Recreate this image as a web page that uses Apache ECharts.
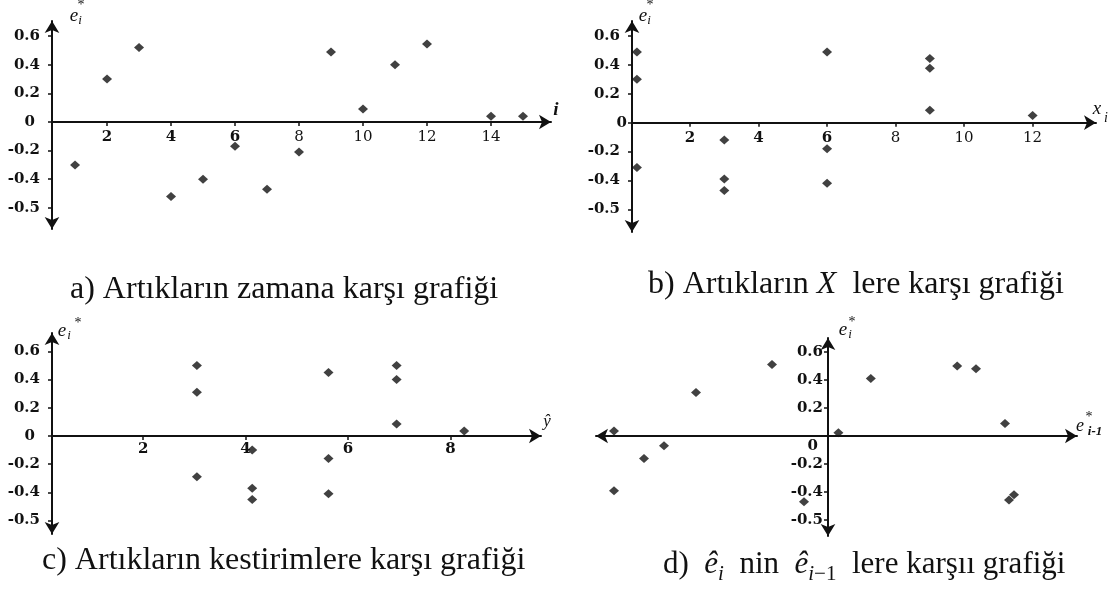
<!DOCTYPE html>
<html><head><meta charset="utf-8">
<script src="https://cdn.jsdelivr.net/npm/echarts@6/dist/echarts.min.js"></script>
<style>html,body{margin:0;padding:0;background:#fff}#c{width:1111px;height:596px}</style>
</head><body><div id="c"></div>
<script>
// ---------- data ----------
// a) residuals against time
const timeIndex = [1, 2, 3, 4, 5, 6, 7, 8, 9, 10, 11, 12, 14, 15];
const residualsByTime = [-0.30, 0.30, 0.52, -0.52, -0.40, -0.17, -0.47, -0.21, 0.49, 0.09, 0.40, 0.545, 0.04, 0.04];
// b) residuals against X
const xValues = [0.45, 0.45, 0.45, 3, 3, 3, 6, 6, 6, 9, 9, 9, 12];
const residualsByX = [0.49, 0.30, -0.31, -0.12, -0.39, -0.47, 0.49, -0.18, -0.42, 0.445, 0.377, 0.086, 0.05];
// c) residuals against fitted values
const fittedValues = [3.05, 3.05, 3.05, 4.13, 4.13, 4.13, 5.62, 5.62, 5.62, 6.95, 6.95, 6.95, 8.27];
const residualsByFit = [0.50, 0.31, -0.29, -0.10, -0.37, -0.45, 0.45, -0.16, -0.41, 0.50, 0.40, 0.085, 0.035];
// d) e_i against e_{i-1}
const laggedResiduals = [-0.535, -0.535, -0.46, -0.41, -0.33, -0.14, -0.06, 0.026, 0.107, 0.323, 0.37, 0.4425, 0.4525, 0.465];
const currentResiduals = [0.036, -0.39, -0.16, -0.07, 0.31, 0.51, -0.47, 0.024, 0.41, 0.50, 0.48, 0.09, -0.457, -0.42];
// tick labels
const xTicksA = [2, 4, 6, 8, 10, 12, 14];
const xTicksB = [2, 4, 6, 8, 10, 12];
const xTicksC = [2, 4, 6, 8];
const yTickVals = [-0.6, -0.4, -0.2, 0, 0.2, 0.4, 0.6];
const yTickText = ['-0.5', '-0.4', '-0.2', '0', '0.2', '0.4', '0.6'];
const captions = [
  'a) Artıkların zamana karşı grafiği',
  'b) Artıkların ', 'X', '  lere karşı grafiği',
  'c) Artıkların kestirimlere karşı grafiği',
  'd)  ', 'ê', 'i', '  nin  ', 'ê', 'i', '−1', '  lere karşıı grafiği'
];

// ---------- styles ----------
const INK = '#111';
const SERIF = "'Liberation Serif','Times New Roman',serif";
const TICKF = "'DejaVu Serif',serif";

function pairs(xs, ys) { return xs.map((x, i) => [x, ys[i]]); }

function yFmt(v) {
  const i = yTickVals.findIndex(t => Math.abs(t - v) < 1e-9);
  const s = i >= 0 ? yTickText[i] : String(v);
  return Math.abs(v) < 1e-9 ? '{z|' + s + '}' : '{n|' + s + '}';
}
const yBase = { fontFamily: TICKF, fontWeight: 'bold', fontSize: 15, color: INK };

function yAxisCfg(gi, min, max, offset, margin, nPad, zPad) {
  return {
    type: 'value', gridIndex: gi, min, max, position: 'left', offset,
    axisLine: { show: true, onZero: false, symbol: ['arrow', 'arrow'], symbolSize: [11, 12],
      lineStyle: { color: INK, width: 2 } },
    axisTick: { show: true, customValues: yTickVals, length: 4, lineStyle: { color: INK, width: 1.5 } },
    axisLabel: { show: true, customValues: yTickVals, margin, formatter: yFmt,
      rich: { n: Object.assign({ padding: nPad }, yBase), z: Object.assign({ padding: zPad }, yBase) } },
    splitLine: { show: false }
  };
}
function xAxisCfg(gi, min, max, offset, ticks, boldMax, margin, symbols) {
  const base = { fontFamily: TICKF, fontSize: 15, color: INK };
  return {
    type: 'value', gridIndex: gi, min, max, position: 'bottom', offset,
    axisLine: { show: true, onZero: false, symbol: symbols, symbolSize: [11, 12],
      lineStyle: { color: INK, width: 2 } },
    axisTick: { show: ticks.length > 0, customValues: ticks, length: 4, lineStyle: { color: INK, width: 1.5 } },
    axisLabel: { show: ticks.length > 0, customValues: ticks, margin,
      formatter: v => (v <= boldMax ? '{b|' : '{r|') + v + '}',
      rich: { b: Object.assign({ fontWeight: 'bold' }, base), r: Object.assign({ fontWeight: 'normal' }, base) } },
    splitLine: { show: false }
  };
}
function scatter(gi, data) {
  return { type: 'scatter', xAxisIndex: gi, yAxisIndex: gi, data, symbol: 'diamond',
    symbolSize: [10, 9], itemStyle: { color: INK }, silent: true };
}
function T(x, y, text, font) {
  return { type: 'text', x, y, silent: true,
    style: { text, font, fill: INK, align: 'center', verticalAlign: 'middle',
      textAlign: 'center', textVerticalAlign: 'middle' } };
}
function R(x, y, text, rich) {
  return { type: 'text', x, y, silent: true,
    style: { text, rich, fill: INK, align: 'left', verticalAlign: 'middle',
      textAlign: 'left', textVerticalAlign: 'middle' } };
}
function capRich(size) {
  return {
    n: { fontFamily: SERIF, fontSize: size, lineHeight: 40, color: INK },
    it: { fontFamily: SERIF, fontSize: size, fontStyle: 'italic', lineHeight: 40, color: INK },
    isub: { fontFamily: SERIF, fontSize: 21, fontStyle: 'italic', lineHeight: 20, verticalAlign: 'bottom', color: INK },
    sub: { fontFamily: SERIF, fontSize: 21, lineHeight: 20, verticalAlign: 'bottom', color: INK }
  };
}

const E = 'italic 19px ' + SERIF, S = 'italic 13px ' + SERIF, ST = '14px ' + SERIF;

const option = {
  animation: false,
  backgroundColor: '#fff',
  grid: [
    { left: 52, top: 21, width: 499, height: 208 },
    { left: 632, top: 21, width: 464, height: 211 },
    { left: 52, top: 333, width: 489, height: 201 },
    { left: 596, top: 338, width: 481, height: 198 }
  ],
  xAxis: [
    xAxisCfg(0, 0.28, 15.875, -107, xTicksA, 6, 8, ['none', 'arrow']),
    xAxisCfg(1, 0.306, 13.85, -109.3, xTicksB, 6, 8, ['none', 'arrow']),
    xAxisCfg(2, 0.22, 9.77, -98, xTicksC, 99, 6, ['none', 'arrow']),
    xAxisCfg(3, -0.58, 0.6225, -100, [], 0, 8, ['arrow', 'arrow'])
  ],
  yAxis: [
    yAxisCfg(0, -0.748, 0.706, 0, 12, [0, 0, 0, 0], [0, 5, 0, 0]),
    yAxisCfg(1, -0.757, 0.704, 0, 5, [0, 7, 0, 0], [0, 0, 0, 0]),
    yAxisCfg(2, -0.695, 0.730, 0, 12, [0, 0, 0, 0], [0, 5, 0, 0]),
    yAxisCfg(3, -0.714, 0.70, -232, 5, [0, 0, 0, 0], [20, 5, 0, 0])
  ],
  series: [
    scatter(0, pairs(timeIndex, residualsByTime)),
    scatter(1, pairs(xValues, residualsByX)),
    scatter(2, pairs(fittedValues, residualsByFit)),
    scatter(3, pairs(laggedResiduals, currentResiduals))
  ],
  graphic: [
    // axis names panel a
    T(74, 16, 'e', E), T(80, 21, 'i', S), T(81, 5, '*', ST),
    T(556, 110, 'i', 'bold italic 19px ' + SERIF),
    // panel b
    T(643, 16, 'e', E), T(649, 21, 'i', S), T(650, 5, '*', ST),
    T(1097, 109, 'x', 'italic 19px ' + SERIF), T(1106, 118, 'i', 'italic 14px ' + SERIF),
    // panel c
    T(62, 331, 'e', E), T(69, 336, 'i', S), T(78, 323, '*', ST),
    T(547, 422, 'ŷ', 'italic 17px ' + SERIF),
    // panel d
    T(843, 330, 'e', E), T(850, 335, 'i', S), T(852, 322, '*', ST),
    T(1080, 426, 'e', 'italic 18px ' + SERIF), T(1089, 417, '*', ST),
    T(1095, 432, 'i-1', 'bold italic 13px ' + SERIF),
    // captions
    R(70, 290, '{n|' + captions[0] + '}', capRich(32)),
    R(648, 285, '{n|' + captions[1] + '}{it|' + captions[2] + '}{n|' + captions[3] + '}', capRich(32)),
    R(42, 561, '{n|' + captions[4] + '}', capRich(32)),
    R(663, 565, '{n|' + captions[5] + '}{it|' + captions[6] + '}{isub|' + captions[7] + '}{n|' + captions[8] +
      '}{it|' + captions[9] + '}{isub|' + captions[10] + '}{sub|' + captions[11] + '}{n|' + captions[12] + '}', capRich(31))
  ]
};
const chart = echarts.init(document.getElementById('c'));
chart.setOption(option);
</script>
</body></html>
